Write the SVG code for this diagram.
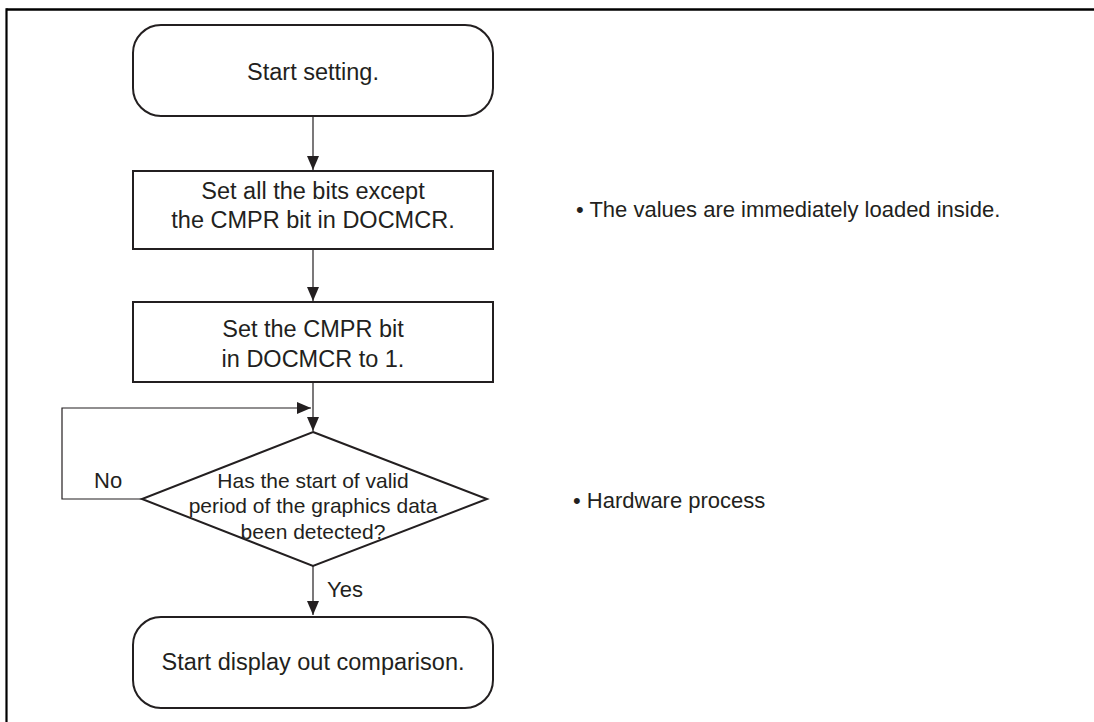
<svg xmlns="http://www.w3.org/2000/svg" width="1094" height="722" viewBox="0 0 1094 722">
<style>
.shape{fill:#fff;stroke:#231f20;stroke-width:2}
.t{font-family:"Liberation Sans",Arial,sans-serif;font-size:23.5px;fill:#231f20;text-anchor:middle}
.d{font-family:"Liberation Sans",Arial,sans-serif;font-size:21px;fill:#231f20;text-anchor:middle}
.n{font-family:"Liberation Sans",Arial,sans-serif;font-size:22px;fill:#231f20}
.c{fill:none;stroke:#231f20;stroke-width:1.2}
</style>
<defs>
<marker id="ah" viewBox="0 0 14 12" refX="14" refY="6" markerWidth="14" markerHeight="12" markerUnits="userSpaceOnUse" orient="auto">
<path d="M0,0 L14,6 L0,12 Z" fill="#231f20"/>
</marker>
</defs>
<rect width="1094" height="722" fill="#fff"/>
<g id="frame">
<line x1="6.5" y1="9.5" x2="1094" y2="9.5" stroke="#000" stroke-width="2.5"/>
<line x1="6.5" y1="8.3" x2="6.5" y2="722" stroke="#000" stroke-width="2.2"/>
</g>
<g id="connectors">
<line class="c" x1="313" y1="116" x2="313" y2="170" marker-end="url(#ah)"/>
<line class="c" x1="313" y1="249" x2="313" y2="301" marker-end="url(#ah)"/>
<line class="c" x1="313" y1="382" x2="313" y2="431" marker-end="url(#ah)"/>
<polyline class="c" points="142,499 62,499 62,408 311,408" marker-end="url(#ah)"/>
<line class="c" x1="313" y1="566" x2="313" y2="615" marker-end="url(#ah)"/>
<text class="n" x="94" y="488">No</text>
<text class="n" x="327" y="597">Yes</text>
</g>
<g id="start">
<rect class="shape" x="133" y="25" width="360" height="91" rx="28" ry="28"/>
<text class="t" x="313" y="80">Start setting.</text>
</g>
<g id="set-bits">
<rect class="shape" x="133" y="171" width="360" height="78"/>
<text class="t" x="313" y="199">Set all the bits except</text>
<text class="t" x="313" y="228">the CMPR bit in DOCMCR.</text>
</g>
<g id="set-cmpr">
<rect class="shape" x="133" y="302" width="360" height="80"/>
<text class="t" x="313" y="337">Set the CMPR bit</text>
<text class="t" x="313" y="367">in DOCMCR to 1.</text>
</g>
<g id="decision">
<polygon class="shape" points="313,432 487,499 313,566 142,499"/>
<text class="d" x="313" y="488">Has the start of valid</text>
<text class="d" x="313" y="513">period of the graphics data</text>
<text class="d" x="313" y="539">been detected?</text>
</g>
<g id="end">
<rect class="shape" x="133" y="617" width="360" height="91" rx="28" ry="28"/>
<text class="t" x="313" y="670">Start display out comparison.</text>
</g>
<g id="notes">
<text class="n" x="576" y="217" font-size="22.8">• The values are immediately loaded inside.</text>
<text class="n" x="573" y="508">• Hardware process</text>
</g>
</svg>
